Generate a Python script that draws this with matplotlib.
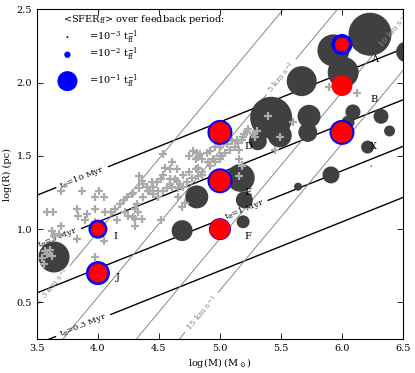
import numpy as np
import matplotlib
matplotlib.use("Agg")
import matplotlib.pyplot as plt

plt.rcParams['font.family'] = ['DejaVu Serif']
plt.rcParams['mathtext.fontset'] = 'dejavuserif'

# observed clouds (grey crosses), log M, log R
cross_m = [4.53, 4.78, 4.81, 4.84, 4.75, 4.82, 4.80, 4.85, 4.89, 4.92, 4.96, 5.00, 5.06, 5.10,
           5.14, 5.15, 5.12, 5.08, 5.04, 5.00, 4.94, 4.90, 5.16, 5.19, 5.22, 4.61, 4.55, 4.59,
           4.65, 4.70, 4.75, 4.80, 4.77, 4.82, 4.85, 4.53, 4.52, 4.59, 4.65, 4.67, 4.73, 4.48,
           4.45, 4.40, 4.36, 4.43, 4.49, 4.57, 4.61, 5.18, 5.16, 4.98, 4.34, 4.44, 4.37, 4.63,
           4.82, 4.85, 4.92, 4.96, 5.00, 5.02, 4.59, 4.01, 4.05, 3.98, 3.87, 3.83, 3.84, 3.91,
           3.89, 3.98, 3.98, 4.06, 4.11, 4.14, 4.18, 4.21, 4.24, 4.28, 4.22, 4.25, 4.30, 4.30,
           4.16, 3.58, 3.70, 3.62, 3.68, 3.64, 3.70, 3.83, 4.05, 3.54, 3.57, 3.61, 3.58, 3.62,
           3.56, 3.98, 4.29, 4.34, 4.37, 4.41, 4.45, 4.32, 4.33, 4.29, 4.36, 4.30, 4.52, 4.49,
           4.53, 4.66, 4.70, 4.66, 4.71, 4.69, 5.20, 5.23, 5.18, 5.27, 5.30, 5.29, 5.39, 5.49,
           5.45, 5.60, 5.16, 5.18, 5.89, 6.12, 3.63]
cross_r = [1.51, 1.53, 1.52, 1.51, 1.50, 1.49, 1.48, 1.48, 1.52, 1.53, 1.56, 1.56, 1.58, 1.60,
           1.61, 1.59, 1.56, 1.54, 1.52, 1.50, 1.48, 1.46, 1.54, 1.63, 1.66, 1.46, 1.42, 1.41,
           1.41, 1.37, 1.39, 1.41, 1.35, 1.36, 1.39, 1.37, 1.34, 1.34, 1.33, 1.31, 1.32, 1.32,
           1.29, 1.29, 1.33, 1.26, 1.26, 1.28, 1.29, 1.44, 1.36, 1.58, 1.36, 1.32, 1.31, 1.34,
           1.42, 1.37, 1.43, 1.46, 1.48, 1.50, 1.31, 1.26, 1.22, 1.22, 1.26, 1.14, 1.09, 1.10,
           1.06, 1.14, 1.05, 1.12, 1.12, 1.14, 1.17, 1.20, 1.22, 1.24, 1.12, 1.09, 1.14, 1.07,
           1.06, 1.12, 1.26, 0.99, 0.97, 0.95, 1.02, 0.93, 0.92, 0.80, 0.85, 0.86, 0.83, 0.82,
           0.76, 0.81, 1.25, 1.28, 1.22, 1.26, 1.24, 1.17, 1.12, 1.08, 1.07, 1.02, 1.06, 1.22,
           1.26, 1.28, 1.29, 1.22, 1.18, 1.15, 1.65, 1.68, 1.61, 1.65, 1.67, 1.63, 1.77, 1.63,
           1.54, 1.73, 1.48, 1.43, 1.97, 1.93, 1.12]

# model clouds (dark circles), size ~ SFE per free-fall time
dark_m = [6.23, 5.93, 6.01, 6.53, 5.67, 5.42, 5.49, 5.31, 5.73, 5.72, 6.09, 6.05, 6.32, 6.39,
          6.21, 6.24, 5.91, 5.64, 5.17, 5.20, 5.19, 4.69, 4.81, 3.64]
dark_r = [2.33, 2.22, 2.07, 2.21, 2.01, 1.76, 1.64, 1.60, 1.77, 1.66, 1.80, 1.73, 1.77, 1.67,
          1.56, 1.43, 1.37, 1.29, 1.35, 1.20, 1.05, 0.99, 1.22, 0.81]
dark_sfe = [0.462, 0.256, 0.240, 0.110, 0.225, 0.441, 0.144, 0.081, 0.132, 0.090, 0.056, 0.042,
            0.056, 0.030, 0.042, 0.0006, 0.072, 0.016, 0.196, 0.072, 0.042, 0.110, 0.132, 0.240]

# labelled simulations
sim_names = ['A', 'B', 'X', 'D', 'E', 'F', 'I', 'J']
sim_m = [6.0, 6.0, 6.0, 5.0, 5.0, 5.0, 4.0, 4.0]
sim_r = [2.26, 1.98, 1.66, 1.66, 1.33, 1.0, 1.0, 0.7]
sim_sfe_blue = [0.110, 0.081, 0.156, 0.156, 0.156, 0.121, 0.090, 0.144]
sim_sfe_red = [0.049, 0.110, 0.110, 0.110, 0.110, 0.110, 0.049, 0.090]

tff_levels = [0.3, 1, 3, 10]
vel_levels = [3, 5, 10, 15]
legend_sfe = [1e-3, 1e-2, 1e-1]
legend_text = ['=10$^{-3}$ t$_{\\rm ff}^{-1}$', '=10$^{-2}$ t$_{\\rm ff}^{-1}$',
               '=10$^{-1}$ t$_{\\rm ff}^{-1}$']

DPI = 100


def msize(sfe):
    # 10% per free-fall time -> 20 px wide dot
    d = 20 * np.sqrt(np.asarray(sfe) / 0.1)
    return (d * 72.0 / DPI) ** 2


fig = plt.figure(figsize=(4.15, 3.73), dpi=DPI)
ax = fig.add_axes([0.089, 0.091, 0.882, 0.884])
ax.set_xlim(3.5, 6.5)
ax.set_ylim(0.25, 2.5)

mm, rr = np.meshgrid(np.linspace(3.4, 6.6, 321), np.linspace(0.15, 2.6, 246))
logt = 1.5 * (rr + 0.602) - 0.5 * mm
logv = (mm - rr - 2.065) / 2.0

cs = ax.contour(mm, rr, logt, levels=np.log10(tff_levels), colors='k',
                linewidths=1.0, linestyles='solid', zorder=1)
ax.clabel(cs, fmt=lambda x: 't$_{\\rm ff}$=%g Myr' % round(10 ** x, 1), fontsize=6,
          inline=True, inline_spacing=4,
          manual=[(3.88, 0.34), (5.2, 1.13), (3.67, 0.94), (3.87, 1.355)])

cv = ax.contour(mm, rr, logv, levels=np.log10(vel_levels), colors='#888888',
                linewidths=0.7, linestyles='solid', zorder=1)
ax.clabel(cv, fmt=lambda x: '%g km s$^{-1}$' % round(10 ** x), fontsize=6,
          inline=True, inline_spacing=4,
          manual=[(3.65, 0.63), (5.5, 2.04), (6.42, 2.36), (4.85, 0.43)])

ax.scatter(dark_m, dark_r, s=msize(dark_sfe), c='#404040', edgecolors='none', zorder=2)
ax.plot(cross_m, cross_r, '+', color='#aaaaaa', ms=6, mew=1.6, zorder=3)
ax.scatter(sim_m, sim_r, s=msize(sim_sfe_blue), c='#0000ff', edgecolors='none', zorder=4)
ax.scatter(sim_m, sim_r, s=msize(sim_sfe_red), c='#ff0000', edgecolors='none', zorder=5)

label_pos = [(6.27, 2.16), (6.26, 1.885), (6.26, 1.565), (5.23, 1.565), (5.23, 1.25),
             (5.23, 0.95), (4.14, 0.95), (4.16, 0.67)]
for name, (x, y) in zip(sim_names, label_pos):
    ax.text(x, y, name, fontsize=7, ha='center', va='center', zorder=6)

# legend for the dot sizes
ax.text(3.71, 2.43, '<SFER$_{\\rm ff}$> over feedback period:', fontsize=7, va='center')
for y, sfe, txt in zip([2.31, 2.19, 2.01], legend_sfe, legend_text):
    ax.scatter([3.75], [y], s=msize(sfe), c='#0000ff', edgecolors='none', zorder=6)
    ax.text(3.93, y, txt, fontsize=7, va='center')

ax.set_xticks([3.5, 4.0, 4.5, 5.0, 5.5, 6.0, 6.5])
ax.set_yticks([0.5, 1.0, 1.5, 2.0, 2.5])
ax.tick_params(direction='in', top=True, right=True, labelsize=7, length=4, width=0.6)
ax.set_xlabel('log(M) (M$_\\odot$)', fontsize=7, labelpad=2)
ax.set_ylabel('log(R) (pc)', fontsize=7, labelpad=3)

fig.savefig('out.png', dpi=DPI)
